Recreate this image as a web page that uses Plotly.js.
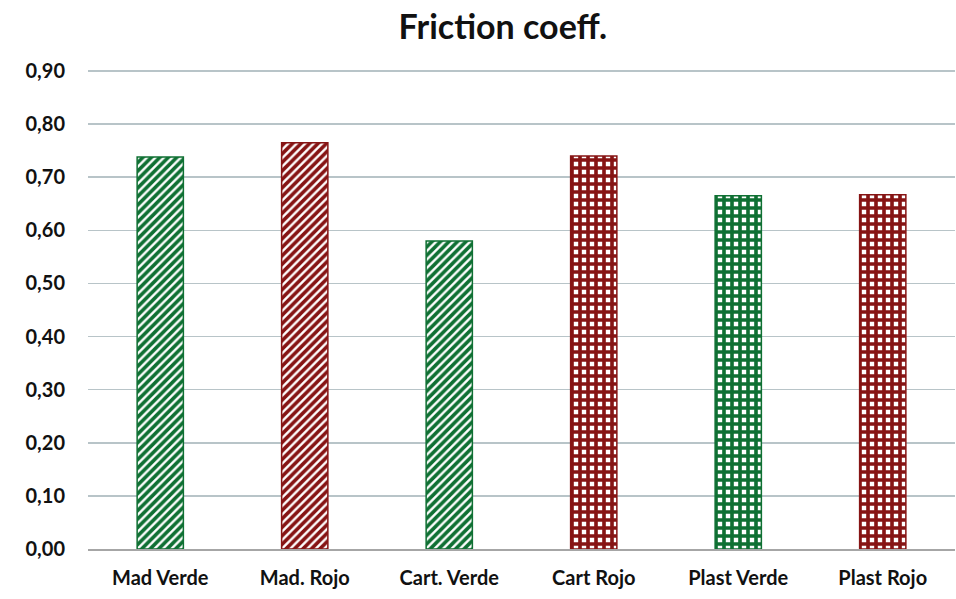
<!DOCTYPE html>
<html><head><meta charset="utf-8">
<script src="https://cdn.plot.ly/plotly-3.0.1.min.js"></script>
<style>body{margin:0;background:#fff}#c{width:956px;height:599px}</style>
</head><body><div id="c"></div>
<script>
const categories = ["Mad Verde", "Mad. Rojo", "Cart. Verde", "Cart Rojo", "Plast Verde", "Plast Rojo"];
const values = [0.738, 0.765, 0.580, 0.740, 0.665, 0.667];
const colors = ["#0f7033", "#861414", "#0f7033", "#861414", "#0f7033", "#861414"];
const shapes = ["/", "/", "/", "+", "+", "+"];
const solid = [0.6, 0.6, 0.6, 0.7, 0.7, 0.7];
const psize = [6, 6, 6, 8, 8, 8];
const tickVals = [0, 0.1, 0.2, 0.3, 0.4, 0.5, 0.6, 0.7, 0.8, 0.9];
const tickText = ["0,00","0,10","0,20","0,30","0,40","0,50","0,60","0,70","0,80","0,90"];

const font = "Lato, 'Open Sans', sans-serif";
const trace = {
  type: "bar",
  x: categories,
  y: values,
  width: 0.32,
  marker: {
    color: "#ffffff",
    line: {color: colors, width: 1.5},
    pattern: {shape: shapes, fgcolor: colors, bgcolor: "#ffffff", size: psize, solidity: solid, fillmode: "replace"}
  },
  hoverinfo: "none"
};

const layout = {
  width: 956, height: 599,
  margin: {l: 88, r: 1, t: 68, b: 50},
  paper_bgcolor: "#ffffff", plot_bgcolor: "#ffffff",
  title: {text: "<b>Friction coeff.</b>", x: 0.526, xanchor: "center", y: 0.975, yanchor: "top",
          font: {family: font, size: 34, color: "#111"}},
  showlegend: false,
  xaxis: {
    type: "category",
    showgrid: false,
    showline: true, linecolor: "#a6a6a6", linewidth: 1.5,
    ticks: "", ticklabelstandoff: 10,
    tickfont: {family: font, size: 20, color: "#111", weight: "bold"},
    automargin: false
  },
  yaxis: {
    range: [0, 0.9056],
    tickvals: tickVals, ticktext: tickText,
    showgrid: true, gridcolor: "#b8c4c8", gridwidth: 1.5,
    zeroline: false, showline: false, ticks: "",
    ticklabelstandoff: 22,
    tickfont: {family: font, size: 20, color: "#111", weight: "bold"},
    automargin: false
  }
};
Plotly.newPlot("c", [trace], layout, {displayModeBar: false, staticPlot: true});
</script></body></html>
